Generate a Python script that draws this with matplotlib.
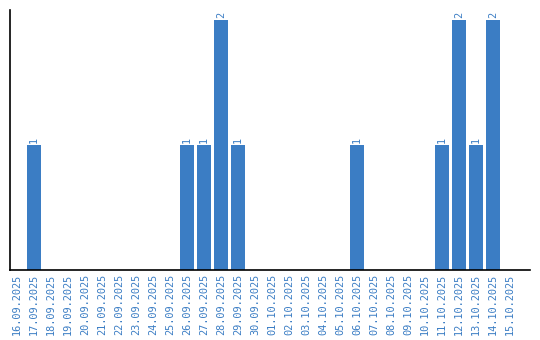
import matplotlib
matplotlib.use("Agg")
import matplotlib.pyplot as plt

dates = ['16.09.2025', '17.09.2025', '18.09.2025', '19.09.2025', '20.09.2025',
         '21.09.2025', '22.09.2025', '23.09.2025', '24.09.2025', '25.09.2025',
         '26.09.2025', '27.09.2025', '28.09.2025', '29.09.2025', '30.09.2025',
         '01.10.2025', '02.10.2025', '03.10.2025', '04.10.2025', '05.10.2025',
         '06.10.2025', '07.10.2025', '08.10.2025', '09.10.2025', '10.10.2025',
         '11.10.2025', '12.10.2025', '13.10.2025', '14.10.2025', '15.10.2025']
counts = [0, 1, 0, 0, 0, 0, 0, 0, 0, 0,
          1, 1, 2, 1, 0, 0, 0, 0, 0, 0,
          1, 0, 0, 0, 0, 1, 2, 1, 2, 0]

blue = '#3b7dc4'

fig = plt.figure(figsize=(5.4, 3.4), dpi=100)
ax = fig.add_axes([10/540, 70/340, 520/540, 260/340])

x = range(len(dates))
ax.bar(x, counts, width=0.82, color=blue)

for i, v in enumerate(counts):
    if v > 0:
        ax.text(i, v + 0.02, str(v), rotation=90, ha='center', va='bottom',
                color=blue, fontsize=7.4, family='DejaVu Sans Mono')

ax.set_xlim(-0.41, 30.18)
ax.set_ylim(0, 2.08)
ax.set_xticks(list(x))
ax.set_xticklabels(dates, rotation=90, fontsize=7.4, color=blue,
                   family='DejaVu Sans Mono')
ax.tick_params(axis='x', length=0, pad=3)
ax.set_yticks([])
ax.spines['top'].set_visible(False)
ax.spines['right'].set_visible(False)
ax.spines['left'].set_linewidth(1.2)
ax.spines['bottom'].set_linewidth(1.2)

fig.savefig('out.png', dpi=100)
